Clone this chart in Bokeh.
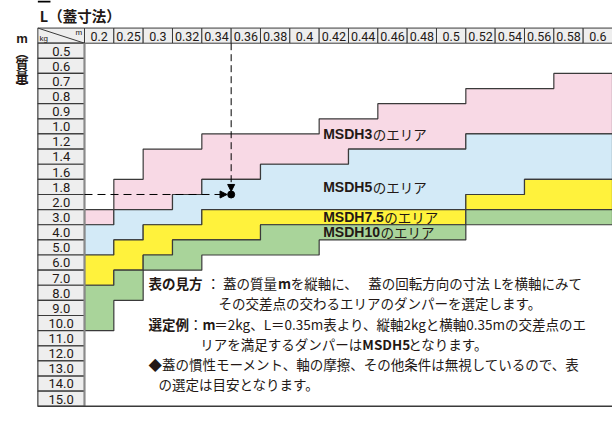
from bokeh.plotting import figure
from bokeh.models import Range1d, Arrow, NormalHead
from bokeh.core.properties import value
from bokeh.embed import file_html
from bokeh.resources import INLINE

# ---------------- data ----------------
L_values = ["0.2", "0.25", "0.3", "0.32", "0.34", "0.36", "0.38", "0.4", "0.42",
            "0.44", "0.46", "0.48", "0.5", "0.52", "0.54", "0.56", "0.58", "0.6"]
m_values = ["0.5", "0.6", "0.7", "0.8", "0.9", "1.0", "1.2", "1.4", "1.6", "1.8",
            "2.0", "3.0", "4.0", "5.0", "6.0", "7.0", "8.0", "9.0", "10.0", "11.0",
            "12.0", "13.0", "14.0", "15.0"]

# first mass row (kg) of each damper area, per L column
msdh3_from = [3.0, 1.8, 1.4, 1.4, 1.2, 1.2, 1.2, 1.2, 1.0, 1.0, 0.9, 0.9, 0.9, 0.8, 0.8, 0.8, 0.7, 0.7]
msdh5_from = [4.0, 3.0, 3.0, 2.0, 1.8, 1.8, 1.6, 1.6, 1.6, 1.4, 1.4, 1.4, 1.4, 1.2, 1.2, 1.2, 1.2, 1.2]
msdh75_from = [6.0, 5.0, 4.0, 4.0, 3.0, 3.0, 3.0, 3.0, 3.0, 3.0, 3.0, 3.0, 3.0, 2.0, 2.0, 1.8, 1.8, 1.8]
msdh10_from = [8.0, 7.0, 6.0, 5.0, 5.0, 5.0, 4.0, 4.0, 4.0, 4.0, 4.0, 4.0, 4.0, 3.0, 3.0, 3.0, 3.0, 3.0]
# last mass row (kg) of the MSDH10 area
msdh10_to = [10.0, 8.0, 6.0, 6.0, 5.0, 5.0, 5.0, 5.0, 4.0, 4.0, 4.0, 4.0, 4.0, 3.0, 3.0, 3.0, 3.0, 3.0]

area_names = ["MSDH3", "MSDH5", "MSDH7.5", "MSDH10"]
area_colors = ["#f8d9e5", "#d3eaf7", "#fff23c", "#a9d49a"]

example_L = "0.34"   # example L = 0.35 m lies on the right edge of the 0.34 column
example_m = "2.0"

title_text = "L（蓋寸法）"
vlabel_chars = ["m", "︵", "質", "量", "︶"]

notes = [
    [("表の見方", True), ("：", False), ("蓋の質量", False), ("m", True), ("を縦軸に、", False),
     ("蓋の回転方向の寸法", False), ("Lを横軸にみて", False)],
    [("その交差点の交わるエリアのダンパーを選定します。", False)],
    [("選定例", True), ("：", False), ("m", True), ("＝2kg、L＝0.35m表より、縦軸2kgと横軸0.35mの交差点のエ", False)],
    [("リアを満足するダンパーは", False), ("MSDH5", True), ("となります。", False)],
    [("◆蓋の慣性モーメント、軸の摩擦、その他条件は無視しているので、表", False)],
    [("の選定は目安となります。", False)],
]
# extra space (px) after each segment, to justify the first line
note_gaps = [[4, 3, 1, 1, 10, 4, 0], [0], [0, 0, 0, 0], [0, 0, 0], [0], [0]]

# ---------------- helpers ----------------
def row_of(kg):
    return m_values.index(f"{kg:.1f}")

JP = value("Noto Sans CJK JP")
DIG = value("Roboto")
ARIAL = value("Liberation Sans")
INK = "#231815"
EDGE = "#3a3a3a"

ARIAL_B = {"M": .833, "S": .667, "D": .722, "H": .722, ".": .278}
CJK_LAT = {"m": .84, "L": .48, "k": .49, "g": .5, ".": .25, "M": .80, "S": .57, "D": .65, "H": .69}

def w_arial_bold(s, fs):
    return sum(ARIAL_B.get(c, .556) for c in s) * fs

def w_jp(s, fs, bold):
    w = 0
    for c in s:
        if ord(c) > 0x2000:
            w += 1.0
        else:
            w += CJK_LAT.get(c, .555) * (1.04 if bold else 1.0)
    return w * fs

ncol = len(L_values)
nrow = len(m_values)
lab_left = -1.59

p = figure(width=612, height=421,
           x_range=Range1d(-2.8636, 18.0), y_range=Range1d(25.005, -2.8224),
           x_axis_location=None, y_axis_location=None,
           output_backend="svg", toolbar_location=None, min_border=0)
p.grid.visible = False
p.outline_line_color = None
p.background_fill_color = "white"

# ---------------- areas ----------------
tops = [[row_of(v) for v in a] for a in (msdh3_from, msdh5_from, msdh75_from, msdh10_from)]
bottoms = tops[1:] + [[row_of(v) + 1 for v in msdh10_to]]

xs_all, ys_all = [], []
for t, b in zip(tops, bottoms):
    xs, ys = [], []
    for j in range(ncol):
        xs += [j, j + 1]
        ys += [t[j], t[j]]
    for j in reversed(range(ncol)):
        xs += [j + 1, j]
        ys += [b[j], b[j]]
    xs_all.append(xs)
    ys_all.append(ys)
p.patches(xs_all, ys_all, fill_color=area_colors, line_color=EDGE, line_width=1.2)

# ---------------- header & label column ----------------
p.quad(left=[lab_left], right=[lab_left + 0.43], top=[-2.8224], bottom=[-2.69],
       fill_color="black", line_color=None)
p.quad(left=list(range(ncol)), right=[j + 1 for j in range(ncol)],
       top=[-1] * ncol, bottom=[0] * ncol,
       fill_color="#eeeeee", line_color=EDGE, line_width=1)
p.quad(left=[lab_left], right=[0], top=[-1], bottom=[0],
       fill_color="#eeeeee", line_color=EDGE, line_width=1)
p.segment(x0=[lab_left], y0=[-1], x1=[0], y1=[0], line_color=EDGE, line_width=1)
p.text(x=[lab_left + 0.06], y=[-0.32], text=["kg"], text_font=ARIAL, text_font_size="8px",
       text_align="left", text_baseline="middle", text_color=INK)
p.text(x=[-0.08], y=[-0.72], text=["m"], text_font=ARIAL, text_font_size="8px",
       text_align="right", text_baseline="middle", text_color=INK)

p.quad(left=[lab_left] * nrow, right=[0] * nrow,
       top=list(range(nrow)), bottom=[i + 1 for i in range(nrow)],
       fill_color="#eeeeee", line_color=EDGE, line_width=1.2)
p.segment(x0=[0], y0=[0], x1=[0], y1=[nrow], line_color="#8a8a8a", line_width=2)
p.segment(x0=[lab_left], y0=[nrow], x1=[ncol], y1=[nrow], line_color=EDGE, line_width=1.5)

p.text(x=[j + 0.5 for j in range(ncol)], y=[-0.47] * ncol, text=L_values,
       text_font=DIG, text_font_size="12.5px", text_align="center",
       text_baseline="middle", text_color=INK)
p.text(x=[lab_left / 2] * nrow, y=[i + 0.52 for i in range(nrow)], text=m_values,
       text_font=DIG, text_font_size="13px", text_align="center",
       text_baseline="middle", text_color=INK)

# ---------------- example marker ----------------
ex_x = L_values.index(example_L) + 1
ex_y = m_values.index(example_m)
p.add_layout(Arrow(x_start=ex_x, y_start=0, x_end=ex_x, y_end=ex_y - 0.2,
                   line_color="black", line_width=1, line_dash="7 4",
                   end=NormalHead(size=7, fill_color="black", line_color="black")))
p.add_layout(Arrow(x_start=0, y_start=ex_y, x_end=ex_x - 0.14, y_end=ex_y,
                   line_color="black", line_width=1, line_dash="8 5",
                   end=NormalHead(size=7, fill_color="black", line_color="black")))
p.scatter(x=[ex_x], y=[ex_y], size=7, color="black")

# ---------------- area labels ----------------
label_x = 8.137
label_y = [5.97, 9.52, 11.5, 12.49]
for name, y in zip(area_names, label_y):
    p.text(x=[label_x], y=[y], text=[name], text_font=ARIAL, text_font_style="bold",
           text_font_size="14px", text_align="left", text_baseline="middle", text_color=INK)
    p.text(x=[label_x], y=[y], text=["のエリア"], text_font=JP, text_font_size="13.5px",
           x_offset=w_arial_bold(name, 14) + 0.5,
           text_align="left", text_baseline="middle", text_color=INK)

# ---------------- title & vertical label ----------------
p.text(x=[-1.524], y=[-1.83], text=[title_text], text_font=JP, text_font_style="bold",
       text_font_size="14.5px", text_align="left", text_baseline="middle", text_color=INK)
vl_y = [-0.278, 0.55, 1.33, 2.2, 2.86]
for ch, y in zip(vlabel_chars, vl_y):
    p.text(x=[-2.131], y=[y], text=[ch], text_font=(ARIAL if ch == "m" else JP),
           text_font_style="bold", text_font_size="13px",
           text_align="center", text_baseline="middle", text_color=INK)

# ---------------- notes ----------------
note_x = [2.18, 4.57, 2.18, 3.95, 2.18, 2.52]
note_y = [15.85, 17.2, 18.56, 19.88, 21.2, 22.53]
fs = 13.5
for segs, gaps, x, y in zip(notes, note_gaps, note_x, note_y):
    off = 0.0
    for (s, bold), g in zip(segs, gaps):
        p.text(x=[x], y=[y], text=[s], text_font=JP, text_font_size=f"{fs}px",
               text_font_style=("bold" if bold else "normal"), x_offset=off,
               text_align="left", text_baseline="middle", text_color=INK)
        off += w_jp(s, fs, bold) + g

open("out.html", "w").write(file_html(p, INLINE))
